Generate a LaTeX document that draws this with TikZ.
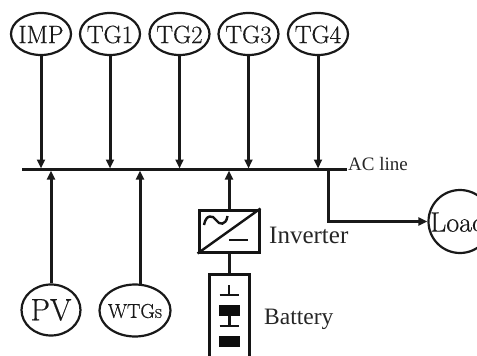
\documentclass[tikz,border=0pt]{standalone}
\usepackage{fontspec}
\newfontfamily\timesf{Liberation Serif}
\newfontfamily\lmf{Latin Modern Roman}[FakeBold=0.4]
\usetikzlibrary{arrows.meta,shapes.geometric}
\tikzset{
  x=1pt,y=-1pt,
  wire/.style={line width=3pt,black!90},
  thin wire/.style={line width=2.4pt,black!92},
  feed/.style={wire,-{Triangle[length=9pt,width=8pt]}},
  src/.style={draw=black!90,line width=2.2pt,ellipse,inner sep=0pt,minimum width=#1},
  lab/.style={inner sep=0pt,font=\lmf\fontsize{#1}{#1}\selectfont,text=black!90},
  tag/.style={font=\timesf\fontsize{#1}{#1}\selectfont,text=black!85,inner sep=0pt},
  box/.style={draw=black!92,line width=3pt,fill=white,inner sep=0pt},
  cell/.style={fill=black!95,inner sep=0pt,minimum width=21pt,minimum height=11pt}
}
\begin{document}
\begin{tikzpicture}
\useasboundingbox (0,0) rectangle (477,356);
\begin{scope}
\clip (0,0) rectangle (477,356);
\coordinate (busL) at (22,169.5);
\coordinate (busR) at (347,169.5);
\draw[wire] (busL) -- (busR);
\foreach \n/\t/\x in {imp/IMP/41,tgA/TG1/110,tgB/TG2/179.5,tgC/TG3/248.5,tgD/TG4/318}{
  \node[src=60pt,minimum height=42pt] (\n) at (\x,34) {};
  \node[lab=25] (\n t) at (\x,34.5) {\t};
  \coordinate (\n b) at (\x,168.5);
  \draw[feed] (\n) -- (\n b);
}
\node[src=59pt,minimum height=51pt] (pv) at (51,310) {};
\node[lab=31] (pvt2) at (51,310) {PV};
\node[src=71pt,minimum height=52pt] (wtg) at (135,310.5) {};
\node[lab=20] (wtgt2) at (135,311) {WTGs};
\coordinate (pvt) at (51,170.5);
\coordinate (wtgt) at (140,170.5);
\coordinate (wtgb) at (140,284.5);
\draw[feed] (pv) -- (pvt);
\draw[feed] (wtgb) -- (wtgt);
% inverter
\node[box,minimum width=60pt,minimum height=42pt] (inv) at (229,231) {};
\draw[thin wire] (inv.south west) -- (inv.north east);
\draw[thin wire] (204,225) .. controls (206,214) and (213,215) .. (216,220) .. controls (219,225) and (226,226) .. (227.5,216);
\draw[thin wire] (229,240) -- (248,240);
\coordinate (invt) at (229,170.5);
\draw[feed] (inv) -- (invt);
% battery
\node[box,minimum width=40pt,minimum height=100pt] (bat) at (229,324) {};
\draw[wire] (inv) -- (bat);
\draw[thin wire] (229,285) -- (229,295) (219.5,295) -- (239,295);
\node[cell] (c1) at (229.5,310.5) {};
\draw[thin wire] (c1.south) -- (229.5,326) (219.5,326) -- (239,326);
\node[cell] (c2) at (229.5,341.5) {};
% load
\node[draw=black!90,line width=2.2pt,circle,minimum size=63pt,inner sep=0pt] (load) at (460,221.5) {};
\node[lab=28,anchor=west] (loadt) at (430,222) {Load};
\coordinate (tap) at (328,169.5);
\draw[feed] (tap) |- (load);
\end{scope}
\node[tag=19,anchor=west] (ac) at (348,163.5) {AC line};
\node[tag=25,anchor=west] (invt2) at (269,235) {Inverter};
\node[tag=23.5,anchor=west] (batt) at (264,319) {Battery};
\end{tikzpicture}
\end{document}
